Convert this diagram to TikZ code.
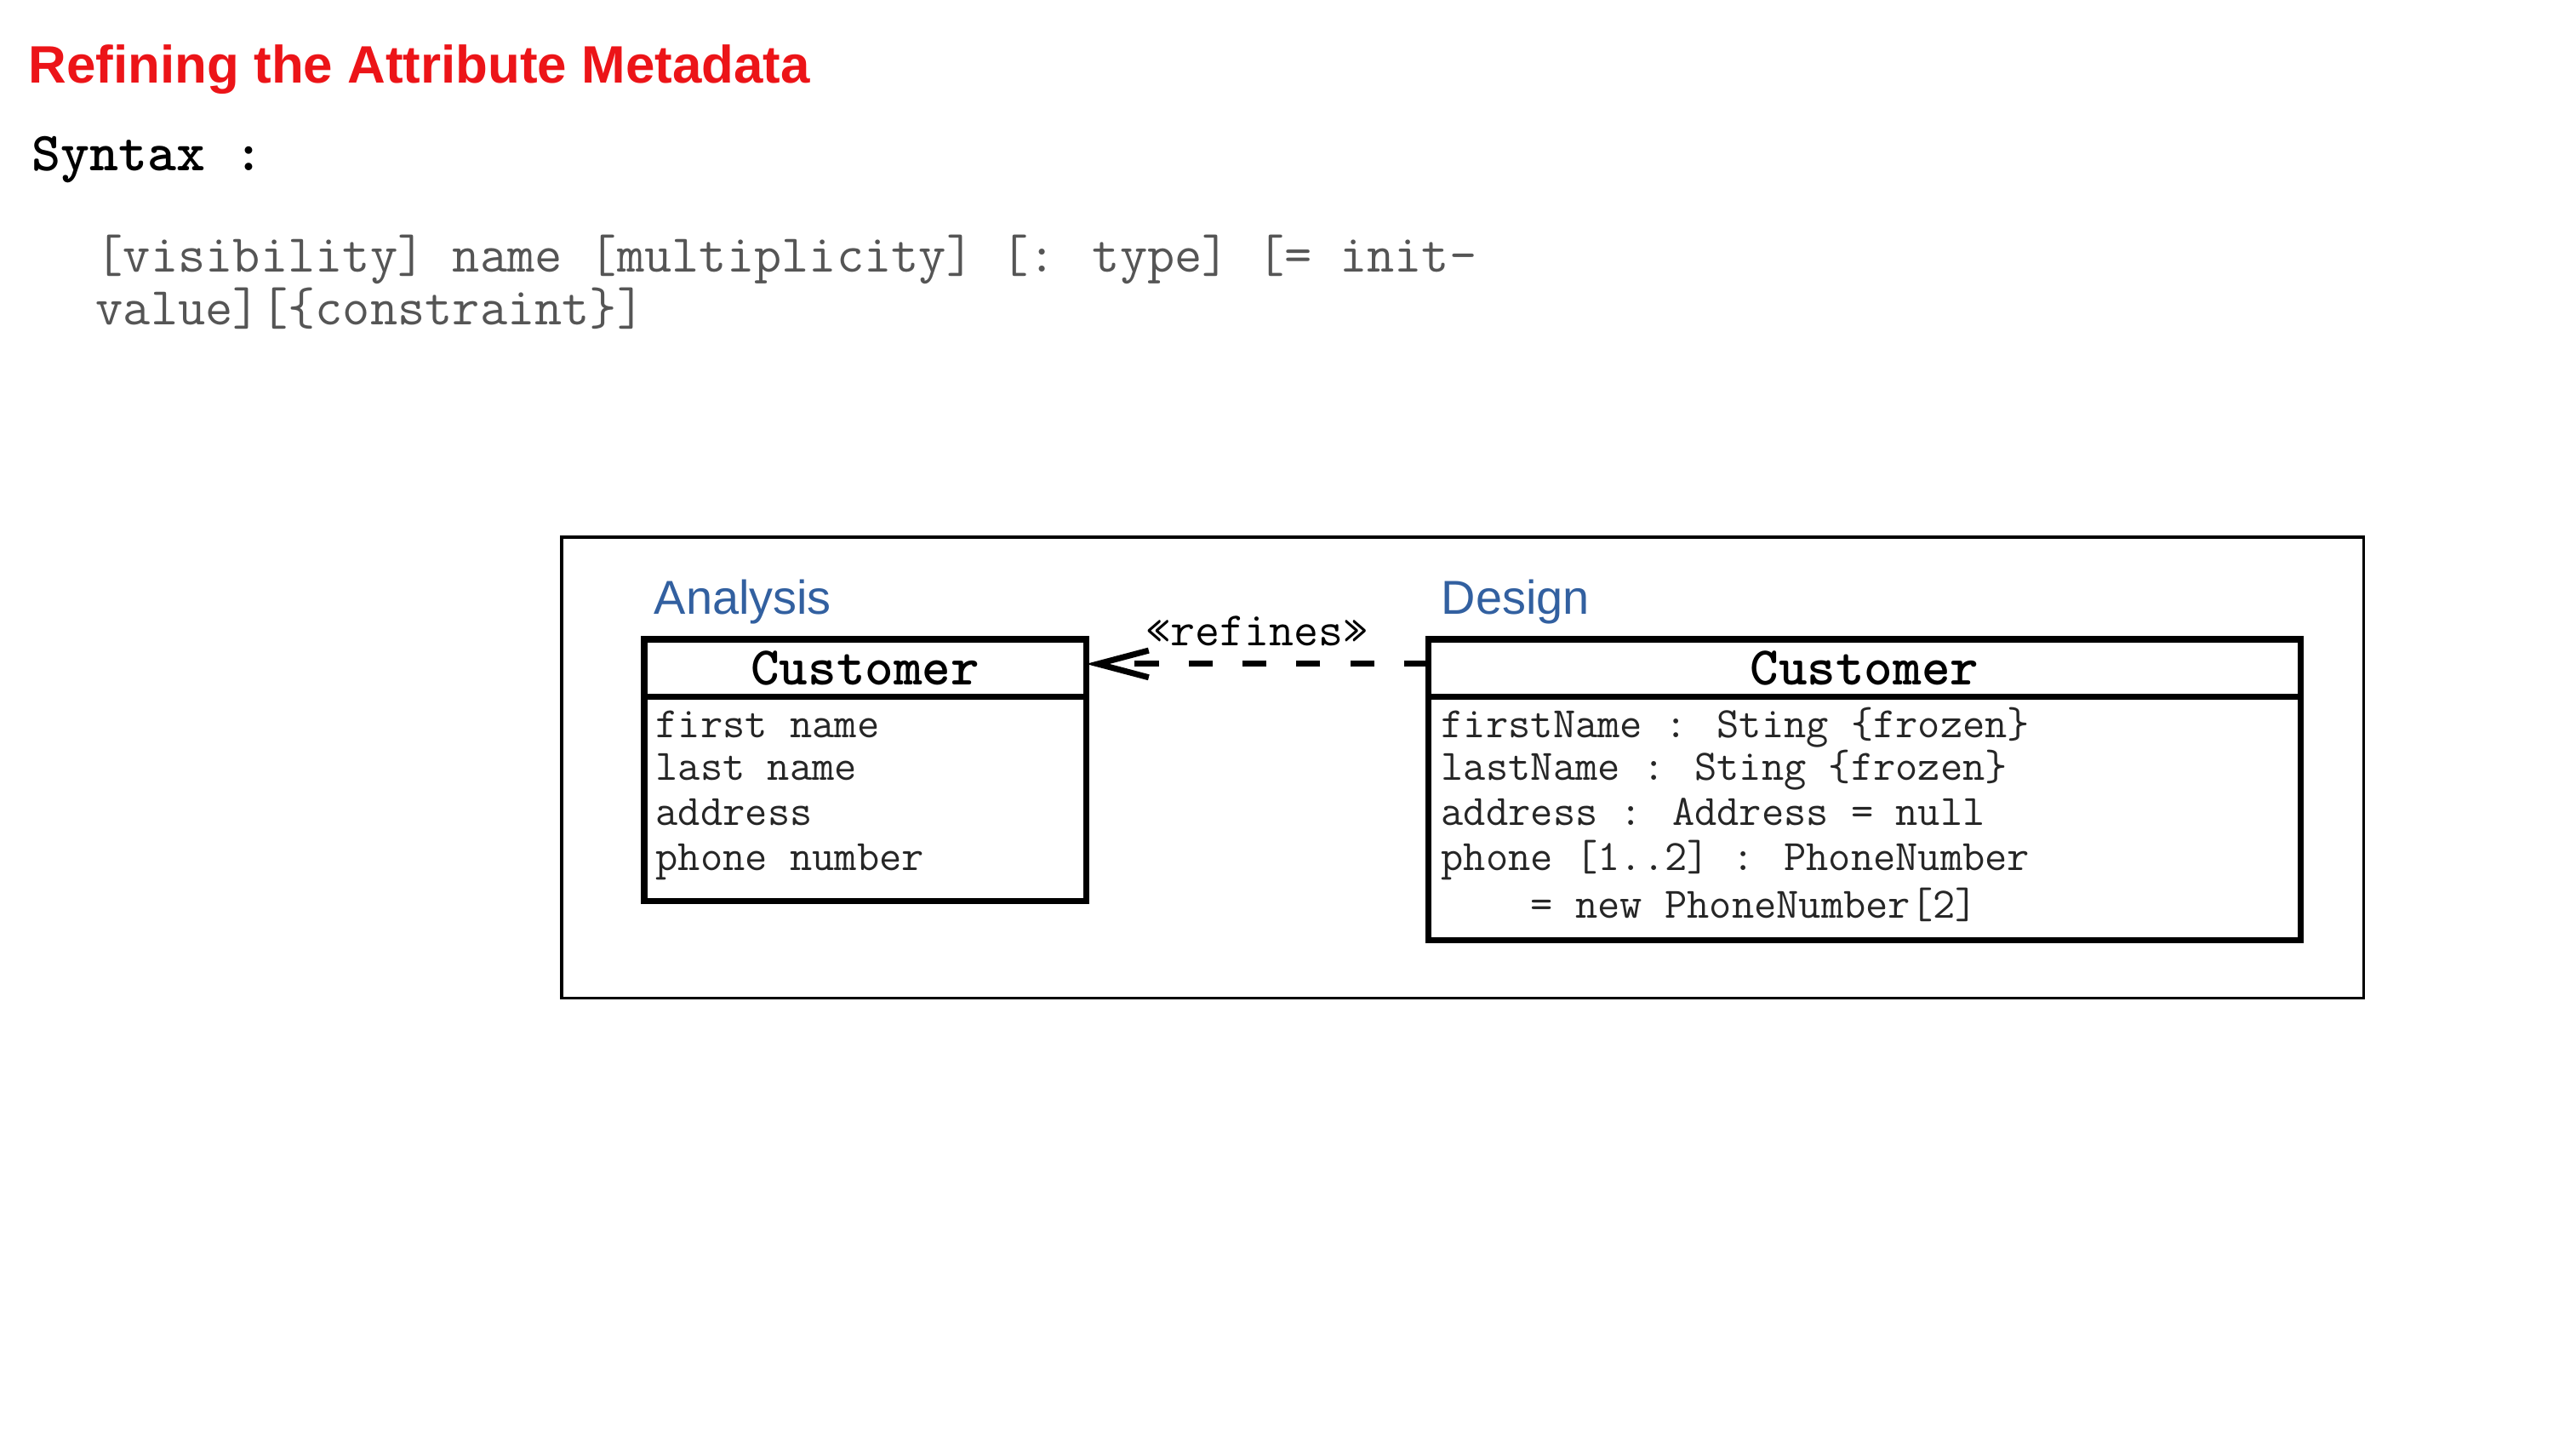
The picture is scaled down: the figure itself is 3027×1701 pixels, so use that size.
\documentclass[tikz,border=0pt]{standalone}
\usepackage{fontspec}
\newfontfamily\arialfont{Liberation Sans}
\usepackage{tikz}
\usetikzlibrary{arrows.meta, positioning}

\definecolor{titlered}{RGB}{236,20,24}
\definecolor{stageblue}{RGB}{50,96,160}
\definecolor{codegray}{RGB}{85,85,85}

\begin{document}
\begin{tikzpicture}[
  x=0.01cm, y=-0.01cm,
  heading/.style   = {anchor=base west, inner sep=0pt, text=titlered,
                      font=\arialfont\bfseries\fontsize{17.6}{21}\selectfont},
  syntaxtxt/.style = {anchor=base west, inner sep=0pt,
                      font=\ttfamily\bfseries\fontsize{18.4}{22}\selectfont},
  codetxt/.style   = {anchor=base west, inner sep=0pt, text=codegray,
                      font=\ttfamily\fontsize{17.8}{21}\selectfont},
  stagetxt/.style  = {anchor=base west, inner sep=0pt, text=stageblue,
                      font=\arialfont\fontsize{15.9}{19}\selectfont},
  outerframe/.style= {draw, line width=0.9pt, anchor=north west, inner sep=0pt,
                      outer sep=0pt, minimum width=21.16cm, minimum height=5.41cm},
  classhead/.style = {draw, line width=2pt, anchor=north west, inner sep=0pt,
                      outer sep=0pt, minimum height=0.67cm,
                      font=\ttfamily\bfseries\fontsize{18.2}{22}\selectfont},
  classbody/.style = {draw, line width=2pt, anchor=north west, inner sep=0pt,
                      outer sep=0pt},
  attr/.style      = {anchor=base west, inner sep=0pt, text=black!85,
                      font=\ttfamily\fontsize{14.5}{17}\selectfont},
  refine/.style    = {-{Straight Barb[length=17pt, width=9pt]}, line width=2pt,
                      dash pattern=on 8pt off 10pt}
]
\useasboundingbox (0,0) rectangle (3027,1701);

%% ── Title and syntax ─────────────────────────────────────────────────────────
\node[heading]   (title)  at (33,98)   {Refining the Attribute Metadata};
\node[syntaxtxt] (syntax) at (37,201)  {Syntax :};
\node[codetxt]   (code1)  at (112,320) {[visibility] name [multiplicity] [: type] [= init-};
\node[codetxt]   (code2)  at (112,382) {value][\{constraint\}]};

%% ── Frame and stage labels ───────────────────────────────────────────────────
\node[outerframe] (frame) at (660,631) {};
\node[stagetxt] (analysis) at (768,722)  {Analysis};
\node[stagetxt] (design)   at (1693,722) {Design};

%% ── Analysis class ───────────────────────────────────────────────────────────
\node[classhead, minimum width=5.19cm] (anaHead) at (757,751) {Customer};
\node[classbody, minimum width=5.19cm, minimum height=2.40cm] (anaBody) at (anaHead.south west) {};
\node[attr] (anaA1) at (770,867)  {first name};
\node[attr] (anaA2) at (770,917)  {last name};
\node[attr] (anaA3) at (770,970)  {address};
\node[attr] (anaA4) at (770,1022) {phone number};

%% ── Design class ─────────────────────────────────────────────────────────────
\node[classhead, minimum width=10.25cm] (desHead) at (1678,751) {Customer};
\node[classbody, minimum width=10.25cm, minimum height=2.86cm] (desBody) at (desHead.south west) {};
\node[attr] (desA1) at (1693,867)  {firstName : Sting \{frozen\}};
\node[attr] (desA2) at (1693,917)  {lastName : Sting \{frozen\}};
\node[attr] (desA3) at (1693,970)  {address : Address = null};
\node[attr] (desA4) at (1693,1022) {phone [1..2] : PhoneNumber};
\node[attr] (desA5) at (1693,1078) {\phantom{xxxx}= new PhoneNumber[2]};

%% ── Refinement dependency ────────────────────────────────────────────────────
\draw[refine] ([yshift=1.3pt]desHead.west) -- ([yshift=1.3pt]anaHead.east)
      node[midway, above=5pt, inner sep=0pt, font=\ttfamily\fontsize{16}{19}\selectfont] (refLbl) {«refines»};

\end{tikzpicture}
\end{document}
